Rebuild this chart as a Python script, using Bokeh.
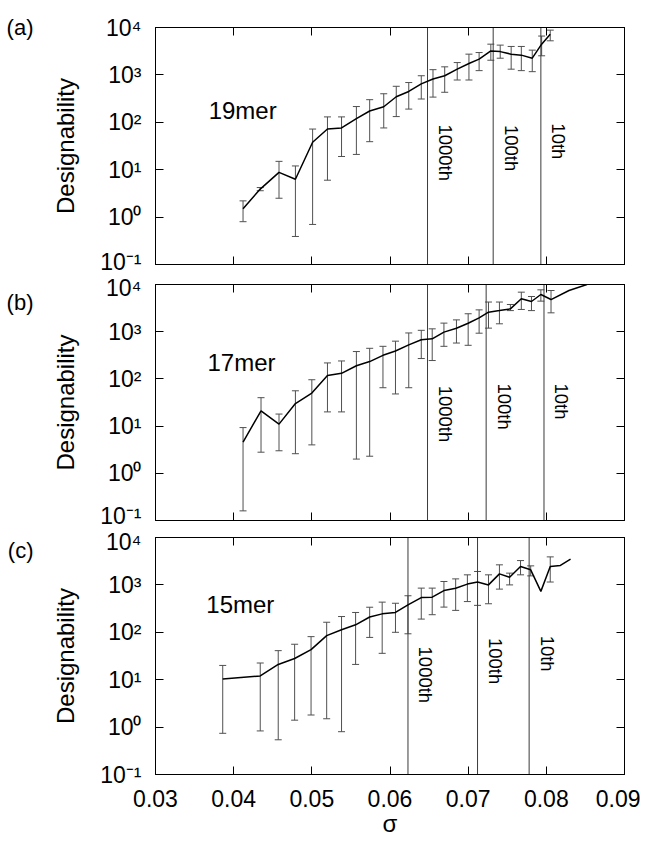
import math
from bokeh.plotting import figure
from bokeh.models import (Range1d, FixedTicker, CustomJSTickFormatter, LinearAxis, LogAxis,
                          Whisker, TeeHead, ColumnDataSource, Label)
from bokeh.layouts import column
from bokeh.embed import file_html
from bokeh.resources import INLINE
from bokeh.core.properties import value

# ---------------- data ----------------
x_ticks = [0.03, 0.04, 0.05, 0.06, 0.07, 0.08, 0.09]
y_ticks = [0.1, 1, 10, 100, 1000, 10000]
rank_labels = ["1000th", "100th", "10th"]

# 19mer
sigma_19 = [0.0412, 0.0434, 0.0458, 0.0479, 0.0501, 0.0520, 0.0538, 0.0557, 0.0574, 0.0592,
            0.0608, 0.0624, 0.0640, 0.0655, 0.0670, 0.0686, 0.0701, 0.0714, 0.0729, 0.0741,
            0.0755, 0.0768, 0.0782, 0.0794, 0.0805]
d_19 = [1.5, 3.9, 8.8, 6.3, 38, 72, 76, 120, 173, 213,
        346, 447, 645, 820, 960, 1320, 1740, 2150, 3200, 3100,
        2740, 2610, 2250, 4450, 7240]
up_19 = [2.2, 4.2, 15, 12, 72, 130, 130, 215, 300, 400,
         575, 690, 960, 1290, 1480, 1820, 2740, 2960, 4450, 4250,
         3980, 3980, 3330, 6600, 8800]
lo_19 = [0.8, 3.6, 2.5, 0.39, 0.7, 6, 19, 21, 39, 76,
         132, 190, 310, 340, 430, 780, 780, 1230, 2040, 2250,
         1320, 1230, 1170, 2530, 5240]
rank_19 = [0.0648, 0.0732, 0.0793]

# 17mer
sigma_17 = [0.0412, 0.0435, 0.0458, 0.0479, 0.0500, 0.0520, 0.0538, 0.0557, 0.0574, 0.0591,
            0.0607, 0.0624, 0.0640, 0.0654, 0.0669, 0.0685, 0.0700, 0.0714, 0.0726, 0.0740,
            0.0754, 0.0768, 0.0781, 0.0793, 0.0806, 0.0829, 0.0852]
d_17 = [4.6, 21, 11, 30, 50, 118, 131, 190, 233, 316,
        390, 525, 675, 705, 980, 1180, 1510, 1960, 2590, 2800,
        3050, 4980, 4360, 6140, 4800, 7460, 10000]
up_17 = [9.3, 40, 18, 56, 96, 218, 240, 380, 445, 490,
         630, 940, 1070, 1150, 1520, 1780, 2400, 2900, 4250, 4250,
         3770, 6880, 5570, 7710, 7460]
lo_17 = [0.16, 2.8, 3.0, 2.6, 4.0, 20, 20, 2.0, 2.3, 65,
         48, 65, 270, 245, 490, 575, 515, 930, 1190, 1470,
         2800, 2960, 2800, 4440, 2510]
rank_17 = [0.0648, 0.0723, 0.0797]

# 15mer
sigma_15 = [0.0386, 0.0434, 0.0457, 0.0478, 0.0499, 0.0519, 0.0538, 0.0556, 0.0574, 0.0590,
            0.0607, 0.0623, 0.0640, 0.0654, 0.0669, 0.0684, 0.0699, 0.0712, 0.0726, 0.0740,
            0.0753, 0.0767, 0.0780, 0.0793, 0.0805, 0.0818, 0.0831]
d_15 = [10.4, 12, 21, 28, 43, 85, 113, 144, 210, 245,
        263, 380, 540, 550, 760, 850, 1040, 1150, 1000, 1710,
        1450, 2450, 2080, 730, 2450, 2580, 3480]
up_15 = [20, 22.5, 41, 56, 81, 163, 215, 262, 338, 433,
         410, 590, 855, 855, 1180, 1340, 1630, 1920, 1630, 2650,
         1770, 3260, 2520, None, 3900, None, None]
lo_15 = [0.74, 0.83, 0.54, 1.4, 1.8, 1.5, 0.8, 21, 78, 36,
         100, 93, 190, 235, 340, 290, 445, 370, 400, 815,
         1000, 1630, 1550, None, 1150, None, None]
rank_15 = [0.0623, 0.0712, 0.0778]

# ---------------- styling ----------------
FONT = "Liberation Sans"
ERR = "#505050"

ylab_js = """
const e = Math.round(Math.log10(tick));
const sup = {'-': '\\u207B', '0': '\\u2070', '1': '\\u00B9', '2': '\\u00B2', '3': '\\u00B3', '4': '\\u2074'};
return '10' + String(e).split('').map(c => sup[c]).join('');
"""


def style_axis(ax, labels_js):
    ax.major_tick_in = 8
    ax.major_tick_out = 0
    ax.minor_tick_line_color = None
    ax.axis_line_color = "black"
    ax.major_tick_line_color = "black"
    ax.formatter = CustomJSTickFormatter(code=labels_js)
    ax.major_label_text_font = FONT
    ax.major_label_text_color = "black"


def panel(sig, d, up, lo, ranks, rank_tops, name, name_xy, tag, tag_y,
          height, b_top, b_bottom, show_x):
    p = figure(width=640, height=height, x_range=Range1d(0.03, 0.09),
               y_range=Range1d(0.1, 10000), y_axis_type="log",
               output_backend="svg", toolbar_location=None,
               min_border_left=155, min_border_right=16,
               min_border_top=b_top, min_border_bottom=b_bottom)
    p.grid.visible = False
    p.outline_line_color = "black"
    p.outline_line_width = 1
    p.background_fill_color = "white"
    p.border_fill_color = "white"

    xt = FixedTicker(ticks=x_ticks, minor_ticks=[])
    yt = FixedTicker(ticks=y_ticks, minor_ticks=[])

    xa = p.xaxis[0]
    xa.ticker = xt
    style_axis(xa, "return tick.toFixed(2);" if show_x else "return '';")
    if show_x:
        xa.major_label_text_font_size = "23px"
        xa.major_label_standoff = 15
        xa.axis_label = "σ"
        xa.axis_label_text_font = FONT
        xa.axis_label_text_font_size = "24px"
        xa.axis_label_text_font_style = "normal"
        xa.axis_label_text_color = "black"
        xa.axis_label_standoff = 0
    else:
        xa.major_label_text_font_size = "1px"
        xa.major_label_standoff = 0

    ya = p.yaxis[0]
    ya.ticker = yt
    style_axis(ya, ylab_js)
    ya.major_label_text_font_size = "23px"
    ya.major_label_standoff = 14
    ya.axis_label = "Designability"
    ya.axis_label_text_font = FONT
    ya.axis_label_text_font_size = "24px"
    ya.axis_label_text_font_style = "normal"
    ya.axis_label_text_color = "black"
    ya.axis_label_standoff = 18

    # panel tag "(a)" etc. as the single label of an outer, line-less axis
    tag_axis = LogAxis(ticker=FixedTicker(ticks=[tag_y], minor_ticks=[]),
                       formatter=CustomJSTickFormatter(args=dict(t=tag), code="return t;"),
                       major_tick_line_color=None, minor_tick_line_color=None,
                       axis_line_color=None, major_label_text_font=FONT,
                       major_label_text_font_size="22px", major_label_text_color="black",
                       major_label_standoff=10)
    p.add_layout(tag_axis, "left")

    top = LinearAxis(ticker=xt)
    style_axis(top, "return '';")
    top.major_label_text_font_size = "1px"
    top.major_label_standoff = 0
    p.add_layout(top, "above")
    right = LogAxis(ticker=yt)
    style_axis(right, "return '';")
    right.major_label_text_font_size = "1px"
    right.major_label_standoff = 0
    p.add_layout(right, "right")

    # rank lines
    p.segment(x0=ranks, y0=[0.1] * len(ranks), x1=ranks, y1=[10000] * len(ranks),
              line_color="#3a3a3a", line_width=1)
    p.text(x=ranks, y=rank_tops, text=rank_labels, angle=-math.pi / 2,
           text_align="left", text_baseline="middle", x_offset=18,
           text_font=value(FONT), text_font_size="18.5px", text_color="black")

    # error bars
    ex, eu, el = [], [], []
    for s, u, l in zip(sig, up, lo):
        if u is not None and l is not None:
            ex.append(s); eu.append(u); el.append(l)
    src = ColumnDataSource(dict(x=ex, up=eu, lo=el))
    w = Whisker(source=src, base="x", upper="up", lower="lo",
                line_color=ERR, line_width=1,
                upper_head=TeeHead(size=7, line_color=ERR, line_width=1),
                lower_head=TeeHead(size=7, line_color=ERR, line_width=1))
    p.add_layout(w)

    p.line(sig, d, line_color="black", line_width=1.5)

    p.add_layout(Label(x=name_xy[0], y=name_xy[1], text=name, text_font=FONT,
                       text_font_size="24px", text_align="left", text_baseline="middle",
                       text_color="black"))
    return p


pa = panel(sigma_19, d_19, up_19, lo_19, rank_19, [90, 88, 95], "19mer", (0.0368, 178),
           "(a)", 10000, 274, 27, 10, False)
pb = panel(sigma_17, d_17, up_17, lo_17, rank_17, [72, 80, 80], "17mer", (0.03665, 224),
           "(b)", 4170, 254, 10, 8, False)
pc = panel(sigma_15, d_15, up_15, lo_15, rank_15, [50, 76, 85], "15mer", (0.0365, 390),
           "(c)", 5320, 315, 9, 69, True)

layout = column(pa, pb, pc, spacing=0)
with open("out.html", "w", encoding="utf-8") as f:
    f.write(file_html(layout, INLINE))
